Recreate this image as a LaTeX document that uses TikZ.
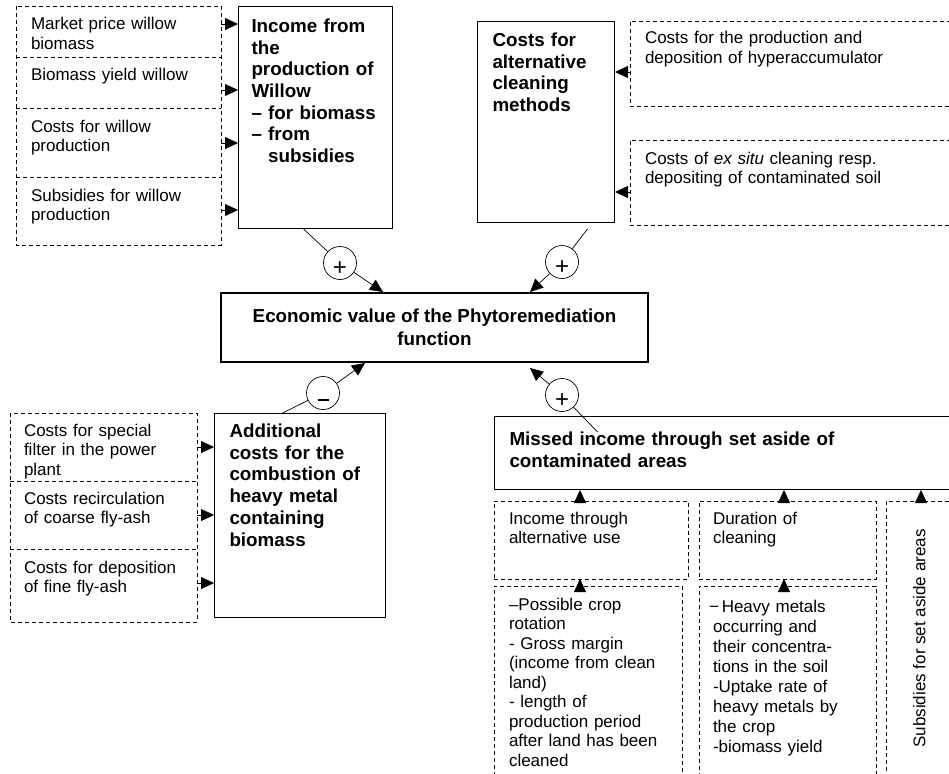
\documentclass[tikz,border=0pt]{standalone}
\usepackage{fontspec}
\usepackage{graphicx}
\setmainfont{Liberation Sans}
\usetikzlibrary{arrows.meta}

\newcommand{\txtfont}{\fontsize{17}{19.5}\selectfont}
\newcommand{\hdfont}{\fontsize{18.8}{21.7}\selectfont\bfseries}

\tikzset{
  dline/.style={dash pattern=on 4pt off 3pt, line width=0.8pt},
  dcell/.style={anchor=north west, outer sep=0pt, inner xsep=15pt, inner ysep=0pt,
    text height=24pt, align=left, font=\txtfont},
  dbox/.style={dcell, draw, dline},
  sbox/.style={draw, line width=1pt, anchor=north west,
    inner xsep=15pt, inner ysep=0pt, text height=25pt, align=left, font=\hdfont},
  sign/.style={draw, circle, line width=0.7pt, minimum size=33pt, inner sep=0pt,
    text height=24.4pt, text depth=0pt, font=\fontsize{24}{24}\selectfont},
  link/.style={line width=0.7pt}
}

\begin{document}
\begin{tikzpicture}[x=1pt, y=-1pt, >={Triangle[length=13pt,width=12pt]}]
\clip (0,0) rectangle (949,773);

% willow income
\node[dcell, text width=175pt, text depth=27pt] (mprice) at (16,6) {Market price willow\\biomass};
\node[dcell, text width=175pt, text depth=27pt] (yield) at (16,57) {Biomass yield willow};
\node[dcell, text width=175pt, text depth=45pt] (wcost) at (16,108) {Costs for willow\\production};
\node[dcell, text width=175pt, text depth=44pt] (wsubs) at (16,177) {Subsidies for willow\\production};
\draw[dline] (mprice.north west) rectangle (wsubs.south east);
\draw[dline] (yield.north west) -- (yield.north east);
\draw[dline] (wcost.north west) -- (wcost.north east);
\draw[dline] (wsubs.north west) -- (wsubs.north east);

\node[sbox, inner xsep=13pt, text width=128pt, text height=26pt, text depth=196pt] (income) at (238,6)
  {Income from\\the\\production of\\Willow\\– for biomass\\– from\\\phantom{– }subsidies};

\draw[->] ([yshift=-18pt]mprice.north east) -- ([yshift=-18pt]mprice.north east -| income.west);
\draw[->] ([yshift=-33pt]yield.north east) -- ([yshift=-33pt]yield.north east -| income.west);
\draw[->] ([yshift=-35pt]wcost.north east) -- ([yshift=-35pt]wcost.north east -| income.west);
\draw[->] ([yshift=-33pt]wsubs.north east) -- ([yshift=-33pt]wsubs.north east -| income.west);

% alternative cleaning
\node[sbox, text width=107pt, text depth=176pt] (altcost) at (477,21)
  {Costs for\\alternative\\cleaning\\methods};
\node[dbox, text width=305pt, text height=23pt, text depth=62pt] (hyper) at (630,21)
  {Costs for the production and\\deposition of hyperaccumulator};
\node[dbox, text width=305pt, text depth=61pt] (exsitu) at (630,140)
  {Costs of \textit{ex situ} cleaning resp.\\depositing of contaminated soil};

\draw[->] ([yshift=-51pt]hyper.north west) -- ([yshift=-51pt]hyper.north west -| altcost.east);
\draw[->] ([yshift=-52pt]exsitu.north west) -- ([yshift=-52pt]exsitu.north west -| altcost.east);

% central value
\node[draw, line width=2pt, minimum width=427pt, minimum height=69pt, align=center,
  font=\fontsize{18.8}{23}\selectfont\bfseries] (econ) at (434.5,327.5)
  {Economic value of the Phytoremediation\\function};

% combustion
\node[sbox, text width=141pt, text height=24pt, text depth=180pt] (addcost) at (214,413)
  {Additional\\costs for the\\combustion of\\heavy metal\\containing\\biomass};
\node[dcell, inner xsep=14pt, text width=159pt, text height=23pt, text depth=45pt] (filter) at (10,413)
  {Costs for special\\filter in the power\\plant};
\node[dcell, inner xsep=14pt, text width=159pt, text height=23pt, text depth=45pt] (recirc) at (10,481)
  {Costs recirculation\\of coarse fly-ash};
\node[dcell, inner xsep=14pt, text width=159pt, text height=24pt, text depth=49pt] (finash) at (10,549)
  {Costs for deposition\\of fine fly-ash};
\draw[dline] (filter.north west) rectangle (finash.south east);
\draw[dline] (recirc.north west) -- (recirc.north east);
\draw[dline] (finash.north west) -- (finash.north east);

\draw[->] (filter.east) -- (filter.east -| addcost.west);
\draw[->] (recirc.east) -- (recirc.east -| addcost.west);
\draw[->] ([yshift=-34pt]finash.north east) -- ([yshift=-34pt]finash.north east -| addcost.west);

% set aside
\node[sbox, text width=441pt, text height=29pt, text depth=44pt] (missed) at (494,416)
  {Missed income through set aside of\\contaminated areas};
\node[dbox, text width=164pt, text height=23pt, text depth=55pt] (altuse) at (494,501)
  {Income through\\alternative use};
\node[dbox, inner xsep=14pt, text width=149pt, text height=23pt, text depth=55pt] (duration) at (699,501)
  {Duration of\\cleaning};
\node[draw, dline, anchor=north west, inner sep=0pt,
  minimum width=66pt, minimum height=274pt, font=\txtfont] (setaside) at (886,501)
  {\rotatebox{90}{Subsidies for set aside areas}};
\node[dbox, text width=158pt, text depth=170pt] (croprot) at (494,586)
  {–Possible crop\\rotation\\- Gross margin\\(income from clean\\land)\\- length of\\production period\\after land has been\\cleaned};
\node[dbox, inner xsep=14pt, text width=149pt, text height=26pt, text depth=168pt,
  font=\fontsize{17}{20}\selectfont] (metals) at (699,586)
  {\hspace*{-4pt}−\,Heavy metals\\occurring and\\their concentra-\\tions in the soil\\-Uptake rate of\\heavy metals by\\the crop\\-biomass yield};

\draw[->] ([xshift=86pt]altuse.north west) -- ([xshift=86pt]altuse.north west |- missed.south);
\draw[->] ([xshift=85pt]duration.north west) -- ([xshift=85pt]duration.north west |- missed.south);
\draw[->] ([xshift=35pt]setaside.north west) -- ([xshift=35pt]setaside.north west |- missed.south);
\draw[->] ([xshift=86pt]croprot.north west) -- ([xshift=86pt]croprot.north west |- altuse.south);
\draw[->] ([xshift=85pt]metals.north west) -- ([xshift=85pt]metals.north west |- duration.south);

% signs
\node[sign] (plusa) at (340,263) {+};
\node[sign] (plusb) at (562,262) {+};
\node[sign] (minus) at (323,393) {\rule[3.9pt]{11pt}{2.6pt}};
\node[sign] (plusc) at (562,395) {+};

\draw[link] ([xshift=-12pt]income.south) -- (plusa);
\draw[link, ->] (plusa) -- ([xshift=-51.5pt]econ.north);
\draw[link] ([xshift=41.5pt,yshift=-6pt]altcost.south) -- (plusb);
\draw[link, ->] (plusb) -- ([xshift=95.5pt]econ.north);
\draw[link] ([xshift=-17.5pt]addcost.north) -- (minus);
\draw[link, ->] (minus) -- ([xshift=-69.5pt]econ.south);
\draw[link] ([xshift=-132.5pt,yshift=-16pt]missed.north) -- (plusc);
\draw[link, ->] (plusc) -- ([xshift=95.5pt,yshift=-5pt]econ.south);
\end{tikzpicture}
\end{document}
